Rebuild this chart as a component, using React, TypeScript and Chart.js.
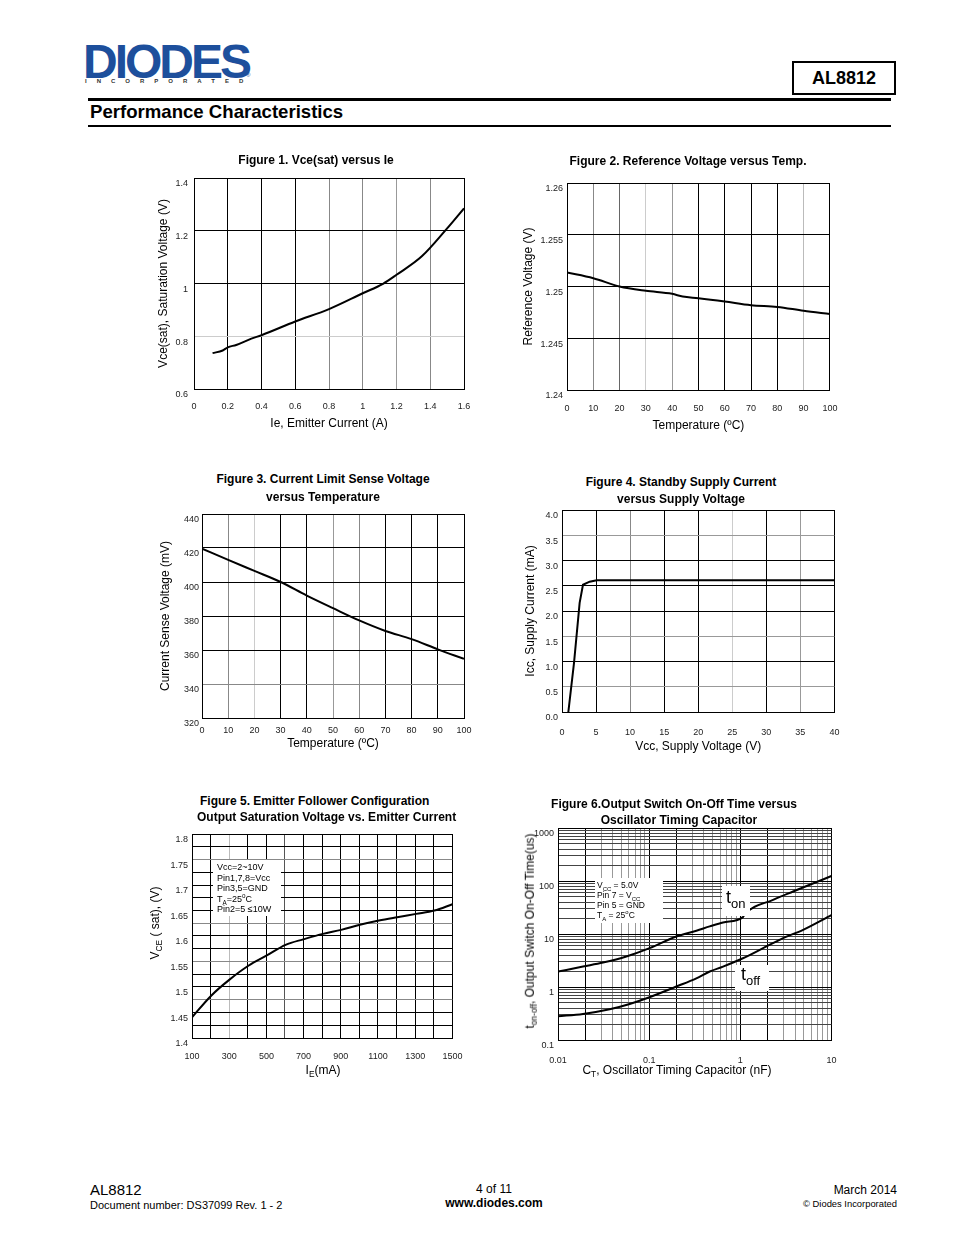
import React, { useEffect, useRef } from 'react';
import { Chart, registerables } from 'chart.js';

Chart.register(...registerables);

const FONT = '"Liberation Sans", Arial, Helvetica, sans-serif';

// ================= DATA =================
// Figure 1: Vce(sat) versus Ie
const fig1Current = [0.11, 0.17, 0.2, 0.25, 0.34, 0.4, 0.6, 0.8, 1.0, 1.12, 1.2, 1.35, 1.5, 1.6];
const fig1Vsat = [0.736, 0.746, 0.758, 0.767, 0.791, 0.804, 0.856, 0.903, 0.963, 0.999, 1.033, 1.103, 1.209, 1.285];
const fig1XTicks = [0, 0.2, 0.4, 0.6, 0.8, 1, 1.2, 1.4, 1.6];
const fig1YTicks = [0.6, 0.8, 1, 1.2, 1.4];

// Figure 2: Reference Voltage versus Temp.
const fig2Temp = [0, 10, 20, 30, 40, 44, 50, 60, 70, 80, 90, 100];
const fig2Vref = [1.25135, 1.2508, 1.25, 1.24958, 1.24929, 1.24903, 1.24887, 1.24855, 1.24819, 1.24803, 1.24765, 1.24735];
const fig2XTicks = [0, 10, 20, 30, 40, 50, 60, 70, 80, 90, 100];
const fig2YTicks = [1.24, 1.245, 1.25, 1.255, 1.26];

// Figure 3: Current Limit Sense Voltage versus Temperature
const fig3Temp = [0, 10, 20, 30, 40, 50, 60, 70, 80, 90, 100];
const fig3Sense = [419.6, 413, 406.5, 400, 392, 384.6, 377.4, 371.2, 366.4, 360.4, 354.8];
const fig3XTicks = [0, 10, 20, 30, 40, 50, 60, 70, 80, 90, 100];
const fig3YTicks = [320, 340, 360, 380, 400, 420, 440];

// Figure 4: Standby Supply Current versus Supply Voltage
const fig4Vcc = [0.93, 1.76, 2.59, 3.08, 4.06, 5.1, 40];
const fig4Icc = [0, 0.97, 2.16, 2.52, 2.58, 2.61, 2.61];
const fig4XTicks = [0, 5, 10, 15, 20, 25, 30, 35, 40];
const fig4YTicks = [0, 0.5, 1, 1.5, 2, 2.5, 3, 3.5, 4];

// Figure 5: Emitter Follower Output Saturation Voltage vs. Emitter Current
const fig5Ie = [100, 203, 300, 403, 502, 603, 702, 804, 902, 1003, 1105, 1203, 1305, 1403, 1500];
const fig5Vce = [1.4405, 1.483, 1.514, 1.5416, 1.5618, 1.5827, 1.5938, 1.6042, 1.612, 1.6219, 1.6303, 1.6369, 1.6434, 1.6499, 1.6623];
const fig5XTicks = [100, 200, 300, 400, 500, 600, 700, 800, 900, 1000, 1100, 1200, 1300, 1400, 1500];
const fig5YTicks = [1.4, 1.425, 1.45, 1.475, 1.5, 1.525, 1.55, 1.575, 1.6, 1.625, 1.65, 1.675, 1.7, 1.725, 1.75, 1.775, 1.8];

// Figure 6: Output Switch On-Off Time versus Oscillator Timing Capacitor
const fig6CtOn = [0.01, 0.0188, 0.0312, 0.0562, 0.101, 0.199, 0.33, 0.462, 0.647, 1.07, 1.13, 2.29, 3.8, 5.79, 10];
const fig6Ton = [1.95, 2.43, 2.89, 3.76, 5.4, 8.97, 11.5, 13.9, 16.5, 20.8, 24.1, 44.2, 63.5, 84.9, 124];
const fig6CtOff = [0.01, 0.0188, 0.0369, 0.0612, 0.101, 0.199, 0.33, 0.462, 0.647, 1.07, 1.78, 2.95, 4.89, 10];
const fig6Toff = [0.28, 0.31, 0.38, 0.479, 0.64, 1.02, 1.46, 1.96, 2.43, 3.49, 5.4, 8.34, 12.0, 22.8];
const fig6XDecades = [0.01, 0.1, 1];
const fig6YDecades = [0.1, 1, 10, 100];
const fig6XMax = 10;
const fig6YMax = 1000;

// ================= STYLE =================
const fig1XGrid = ['#000', '#000', '#000', '#000', '#888', '#888', '#999', '#888', '#000'];
const fig1YGrid = ['#000', '#ccc', '#000', '#000', '#000'];
const fig2XGrid = ['#000', '#888', '#666', '#ccc', '#999', '#000', '#000', '#000', '#000', '#bbb', '#000'];
const fig2YGrid = ['#000', '#000', '#000', '#000', '#000'];
const fig3XGrid = ['#000', '#888', '#ccc', '#000', '#000', '#999', '#888', '#000', '#000', '#000', '#000'];
const fig3YGrid = ['#000', '#888', '#000', '#000', '#000', '#000', '#000'];
const fig4XGrid = ['#000', '#000', '#888', '#000', '#000', '#ccc', '#000', '#999', '#000'];
const fig4YGrid = ['#000', '#999', '#000', '#999', '#000', '#000', '#000', '#999', '#000'];
const fig5XGrid = ['#000', '#000', '#bbb', '#000', '#000', '#555', '#000', '#000', '#000', '#000', '#000', '#000', '#000', '#000', '#000'];
const fig5YGrid = ['#000', '#000', '#000', '#888', '#000', '#000', '#888', '#000', '#000', '#888', '#000', '#000', '#000', '#000', '#888', '#000', '#000'];

const TICK = 9;
const TITLE = 12;

type Frame = { cx: number; cy: number; cw: number; ch: number; L: number; T: number; R: number; B: number };
type AxisSpec = {
  type?: 'linear' | 'logarithmic';
  min: number;
  max: number;
  ticks: number[];
  label: (v: number) => string;
  grid: (v: number, i: number) => string;
  tickPos: number;
  title?: { text: string; pos: number };
};

const fmt = (v: number) => String(Number(v.toFixed(4)));
const byIndex = (arr: string[]) => (_v: number, i: number) => arr[i] ?? '#000';

function buildAxis(spec: AxisSpec, isX: boolean, f: Frame) {
  const lh = TICK * 1.2;
  const tlh = TITLE * 1.2;
  return {
    type: spec.type ?? 'linear',
    position: isX ? 'bottom' : 'left',
    min: spec.min,
    max: spec.max,
    afterBuildTicks: (scale: any) => {
      scale.ticks = spec.ticks.map((v) => ({ value: v }));
    },
    afterFit: (scale: any) => {
      if (isX) scale.height = f.cy + f.ch - f.B;
      else scale.width = f.L - f.cx;
    },
    grid: {
      drawTicks: false,
      color: (ctx: any) => spec.grid(ctx.tick ? ctx.tick.value : 0, ctx.index),
      lineWidth: 1,
    },
    border: { display: true, color: '#000', width: 1 },
    ticks: {
      autoSkip: false,
      maxRotation: 0,
      minRotation: 0,
      color: '#222',
      font: { family: FONT, size: TICK },
      padding: isX ? spec.tickPos - f.B - lh / 2 : f.L - spec.tickPos,
      labelOffset: isX ? 0 : 6,
      callback: (v: any) => spec.label(Number(v)),
    },
    title: spec.title
      ? {
          display: true,
          text: spec.title.text,
          color: '#000',
          font: { family: FONT, size: TITLE },
          padding: isX
            ? { top: 0, bottom: f.cy + f.ch - tlh / 2 - spec.title.pos }
            : { top: spec.title.pos - f.cx - tlh / 2, bottom: 0 },
        }
      : { display: false },
  };
}

type Series = { xs: number[]; ys: number[]; smooth: boolean };

function lineConfig(f: Frame, x: AxisSpec, y: AxisSpec, series: Series[]) {
  return {
    type: 'line',
    data: {
      datasets: series.map((s) => ({
        data: s.xs.map((v, i) => ({ x: v, y: s.ys[i] })),
        borderColor: '#000',
        borderWidth: 2,
        pointRadius: 0,
        fill: false,
        tension: s.smooth ? 0.4 : 0,
        cubicInterpolationMode: s.smooth ? 'monotone' : 'default',
      })),
    },
    options: {
      responsive: false,
      animation: false,
      devicePixelRatio: 1,
      events: [],
      layout: { padding: { left: 0, top: f.T - f.cy, right: f.cx + f.cw - f.R, bottom: 0 } },
      plugins: { legend: { display: false }, tooltip: { enabled: false }, title: { display: false } },
      scales: { x: buildAxis(x, true, f), y: buildAxis(y, false, f) },
    },
  };
}

function ChartCanvas({ frame, config }: { frame: Frame; config: () => any }) {
  const ref = useRef<HTMLCanvasElement>(null);
  useEffect(() => {
    const c = new Chart(ref.current as HTMLCanvasElement, config());
    return () => c.destroy();
  }, []);
  return (
    <canvas
      ref={ref}
      width={frame.cw}
      height={frame.ch}
      style={{ position: 'absolute', left: frame.cx, top: frame.cy, width: frame.cw, height: frame.ch }}
    />
  );
}

function Txt({ x, y, size, bold, align = 'left', color = '#000', children, style }: any) {
  const tx = align === 'center' ? 'translateX(-50%)' : align === 'right' ? 'translateX(-100%)' : 'none';
  return (
    <div
      style={{
        position: 'absolute',
        left: x,
        top: y - size * 0.62,
        fontFamily: FONT,
        fontSize: size,
        fontWeight: bold ? 700 : 400,
        lineHeight: 1.2,
        whiteSpace: 'nowrap',
        color,
        transform: tx,
        ...style,
      }}
    >
      {children}
    </div>
  );
}

function VTxt({ x, y, size, children }: any) {
  return (
    <div
      style={{
        position: 'absolute',
        left: x,
        top: y,
        fontFamily: FONT,
        fontSize: size,
        lineHeight: 1.2,
        whiteSpace: 'nowrap',
        color: '#000',
        transform: 'translate(-50%,-50%) rotate(-90deg)',
      }}
    >
      {children}
    </div>
  );
}

const Sub = ({ children, scale = 0.7 }: any) => (
  <span style={{ fontSize: `${scale}em`, verticalAlign: 'sub', lineHeight: 0 }}>{children}</span>
);
const Sup = ({ children }: any) => (
  <span style={{ fontSize: '0.7em', verticalAlign: 'super', lineHeight: 0 }}>{children}</span>
);

function Box({ x, y, w, h }: any) {
  return <div style={{ position: 'absolute', left: x, top: y, width: w, height: h, background: '#fff' }} />;
}

// ================= FRAMES =================
const f1: Frame = { cx: 150, cy: 166, cw: 334, ch: 268, L: 194, T: 178, R: 464, B: 389 };
const f2: Frame = { cx: 515, cy: 171, cw: 336, ch: 265, L: 567, T: 183, R: 831, B: 390 };
const f3: Frame = { cx: 152, cy: 502, cw: 332, ch: 252, L: 202, T: 514, R: 464, B: 718 };
const f4: Frame = { cx: 515, cy: 498, cw: 340, ch: 259, L: 562, T: 510, R: 835, B: 712 };
const f5: Frame = { cx: 140, cy: 822, cw: 336, ch: 258, L: 192, T: 834, R: 456, B: 1038 };
const f6: Frame = { cx: 510, cy: 816, cw: 342, ch: 264, L: 558, T: 828, R: 832, B: 1040 };

function logTicks(decades: number[], top: number) {
  const out: number[] = [];
  decades.forEach((d) => {
    for (let m = 1; m < 10; m++) out.push(Number((d * m).toPrecision(3)));
  });
  out.push(top);
  return out;
}
const isDecade = (v: number) => {
  const l = Math.log10(v);
  return Math.abs(l - Math.round(l)) < 1e-9;
};
const mantissa = (v: number) => Math.round(v / Math.pow(10, Math.floor(Math.log10(v) + 1e-9)));

const cfg1 = () =>
  lineConfig(
    f1,
    { min: 0, max: 1.6, ticks: fig1XTicks, label: fmt, grid: byIndex(fig1XGrid), tickPos: 407, title: { text: 'Ie, Emitter Current (A)', pos: 424 } },
    { min: 0.6, max: 1.4, ticks: fig1YTicks, label: fmt, grid: byIndex(fig1YGrid), tickPos: 188, title: { text: 'Vce(sat), Saturation Voltage (V)', pos: 164 } },
    [{ xs: fig1Current, ys: fig1Vsat, smooth: true }]
  );

const cfg2 = () =>
  lineConfig(
    f2,
    { min: 0, max: 100, ticks: fig2XTicks, label: fmt, grid: byIndex(fig2XGrid), tickPos: 409, title: { text: 'Temperature (ºC)', pos: 426 } },
    { min: 1.24, max: 1.26, ticks: fig2YTicks, label: fmt, grid: byIndex(fig2YGrid), tickPos: 563, title: { text: 'Reference Voltage (V)', pos: 529 } },
    [{ xs: fig2Temp, ys: fig2Vref, smooth: true }]
  );

const cfg3 = () =>
  lineConfig(
    f3,
    { min: 0, max: 100, ticks: fig3XTicks, label: fmt, grid: byIndex(fig3XGrid), tickPos: 731, title: { text: 'Temperature (ºC)', pos: 744 } },
    { min: 320, max: 440, ticks: fig3YTicks, label: fmt, grid: byIndex(fig3YGrid), tickPos: 199, title: { text: 'Current Sense Voltage (mV)', pos: 166 } },
    [{ xs: fig3Temp, ys: fig3Sense, smooth: true }]
  );

const cfg4 = () =>
  lineConfig(
    f4,
    { min: 0, max: 40, ticks: fig4XTicks, label: fmt, grid: byIndex(fig4XGrid), tickPos: 733, title: { text: 'Vcc, Supply Voltage (V)', pos: 747 } },
    { min: 0, max: 4, ticks: fig4YTicks, label: (v) => v.toFixed(1), grid: byIndex(fig4YGrid), tickPos: 558, title: { text: 'Icc, Supply Current (mA)', pos: 531 } },
    [{ xs: fig4Vcc, ys: fig4Icc, smooth: false }]
  );

const cfg5 = () =>
  lineConfig(
    f5,
    { min: 100, max: 1500, ticks: fig5XTicks, label: (v) => ((v - 100) % 200 === 0 ? String(v) : ''), grid: byIndex(fig5XGrid), tickPos: 1057 },
    {
      min: 1.4,
      max: 1.8,
      ticks: fig5YTicks,
      label: (v) => (Math.abs(Math.round(v * 20) - v * 20) < 1e-6 ? fmt(v) : ''),
      grid: byIndex(fig5YGrid),
      tickPos: 188,
    },
    [{ xs: fig5Ie, ys: fig5Vce, smooth: true }]
  );

const cfg6 = () =>
  lineConfig(
    f6,
    {
      type: 'logarithmic',
      min: 0.01,
      max: fig6XMax,
      ticks: logTicks(fig6XDecades, fig6XMax),
      label: (v) => (isDecade(v) ? String(Number(v.toPrecision(3))) : ''),
      grid: (v) => (isDecade(v) || mantissa(v) === 2 ? '#000' : '#999'),
      tickPos: 1061,
    },
    {
      type: 'logarithmic',
      min: 0.1,
      max: fig6YMax,
      ticks: logTicks(fig6YDecades, fig6YMax),
      label: (v) => (isDecade(v) ? String(Number(v.toPrecision(3))) : ''),
      grid: (v) => (isDecade(v) ? '#000' : '#444'),
      tickPos: 554,
    },
    [
      { xs: fig6CtOn, ys: fig6Ton, smooth: true },
      { xs: fig6CtOff, ys: fig6Toff, smooth: true },
    ]
  );

export default function App() {
  return (
    <div style={{ position: 'absolute', left: 0, top: 0, width: 954, height: 1235, background: '#fff', overflow: 'hidden' }}>
      {/* Header */}
      <div
        style={{
          position: 'absolute',
          left: 83,
          top: 38,
          fontFamily: FONT,
          fontWeight: 900,
          fontSize: 48,
          lineHeight: '48px',
          letterSpacing: -3,
          color: '#1d4f9c',
        }}
      >
        DIODES
      </div>
      <Txt x={246} y={76} size={6} color="#1d4f9c">®</Txt>
      <Txt x={85} y={82} size={6} bold color="#333" style={{ letterSpacing: 10 }}>
        INCORPORATED
      </Txt>
      <div
        style={{
          position: 'absolute',
          left: 792,
          top: 61,
          width: 100,
          height: 30,
          border: '2px solid #000',
          fontFamily: FONT,
          fontWeight: 700,
          fontSize: 18,
          lineHeight: '30px',
          textAlign: 'center',
        }}
      >
        AL8812
      </div>
      <div style={{ position: 'absolute', left: 88, top: 98, width: 803, height: 3, background: '#000' }} />
      <Txt x={90} y={113} size={18.6} bold>
        Performance Characteristics
      </Txt>
      <div style={{ position: 'absolute', left: 88, top: 125, width: 803, height: 2, background: '#000' }} />

      {/* Charts */}
      <ChartCanvas frame={f1} config={cfg1} />
      <ChartCanvas frame={f2} config={cfg2} />
      <ChartCanvas frame={f3} config={cfg3} />
      <ChartCanvas frame={f4} config={cfg4} />
      <ChartCanvas frame={f5} config={cfg5} />
      <ChartCanvas frame={f6} config={cfg6} />

      {/* Figure titles */}
      <Txt x={316} y={160} size={12} bold align="center">Figure 1.  Vce(sat) versus Ie</Txt>
      <Txt x={688} y={161} size={12} bold align="center">Figure 2. Reference Voltage versus Temp.</Txt>
      <Txt x={323} y={479} size={12} bold align="center">Figure 3. Current Limit Sense Voltage</Txt>
      <Txt x={323} y={497} size={12} bold align="center">versus Temperature</Txt>
      <Txt x={681} y={482} size={12} bold align="center">Figure 4. Standby Supply Current</Txt>
      <Txt x={681} y={499} size={12} bold align="center">versus Supply Voltage</Txt>
      <Txt x={200} y={801} size={12} bold>Figure 5. Emitter Follower Configuration</Txt>
      <Txt x={197} y={817} size={12} bold>Output Saturation Voltage vs. Emitter Current</Txt>
      <Txt x={674} y={804} size={12} bold align="center">Figure 6.Output Switch On-Off Time versus</Txt>
      <Txt x={679} y={820} size={12} bold align="center">Oscillator Timing Capacitor</Txt>

      {/* Figure 5 axis titles + note */}
      <VTxt x={155} y={923} size={12}>
        V<Sub>CE</Sub> ( sat), (V)
      </VTxt>
      <Txt x={323} y={1070} size={12} align="center">
        I<Sub>E</Sub>(mA)
      </Txt>
      <Box x={213} y={860} w={68} h={56} />
      <Txt x={217} y={868} size={9}>Vcc=2~10V</Txt>
      <Txt x={217} y={879} size={9}>Pin1,7,8=Vcc</Txt>
      <Txt x={217} y={889} size={9}>Pin3,5=GND</Txt>
      <Txt x={217} y={900} size={9}>
        T<Sub>A</Sub>=25<Sup>o</Sup>C
      </Txt>
      <Txt x={217} y={910} size={9}>Pin2=5 ≤10W</Txt>

      {/* Figure 6 axis titles + notes */}
      <VTxt x={530} y={931} size={12}>
        t<Sub>on-off</Sub>, Output Switch On-Off Time(us)
      </VTxt>
      <Txt x={677} y={1070} size={12} align="center">
        C<Sub>T</Sub>, Oscillator Timing Capacitor (nF)
      </Txt>
      <Box x={595} y={878} w={68} h={45} />
      <Txt x={597} y={885} size={8.5}>
        V<Sub>CC</Sub> = 5.0V
      </Txt>
      <Txt x={597} y={895} size={8.5}>
        Pin 7 = V<Sub>CC</Sub>
      </Txt>
      <Txt x={597} y={905} size={8.5}>Pin 5 = GND</Txt>
      <Txt x={597} y={915} size={8.5}>
        T<Sub>A</Sub> = 25<Sup>o</Sup>C
      </Txt>
      <Box x={722} y={886} w={28} h={30} />
      <Txt x={726} y={898} size={18}>
        t<span style={{ fontSize: 13, position: 'relative', top: 5 }}>on</span>
      </Txt>
      <Box x={735} y={965} w={34} h={26} />
      <Txt x={741} y={975} size={18}>
        t<span style={{ fontSize: 13, position: 'relative', top: 5 }}>off</span>
      </Txt>

      {/* Footer */}
      <Txt x={90} y={1190} size={15}>AL8812</Txt>
      <Txt x={90} y={1206} size={11}>Document number: DS37099 Rev. 1 - 2</Txt>
      <Txt x={494} y={1189} size={12} align="center">4 of 11</Txt>
      <Txt x={494} y={1203} size={12} bold align="center">www.diodes.com</Txt>
      <Txt x={897} y={1190} size={12} align="right">March 2014</Txt>
      <Txt x={897} y={1204} size={9.4} align="right">© Diodes Incorporated</Txt>
    </div>
  );
}
